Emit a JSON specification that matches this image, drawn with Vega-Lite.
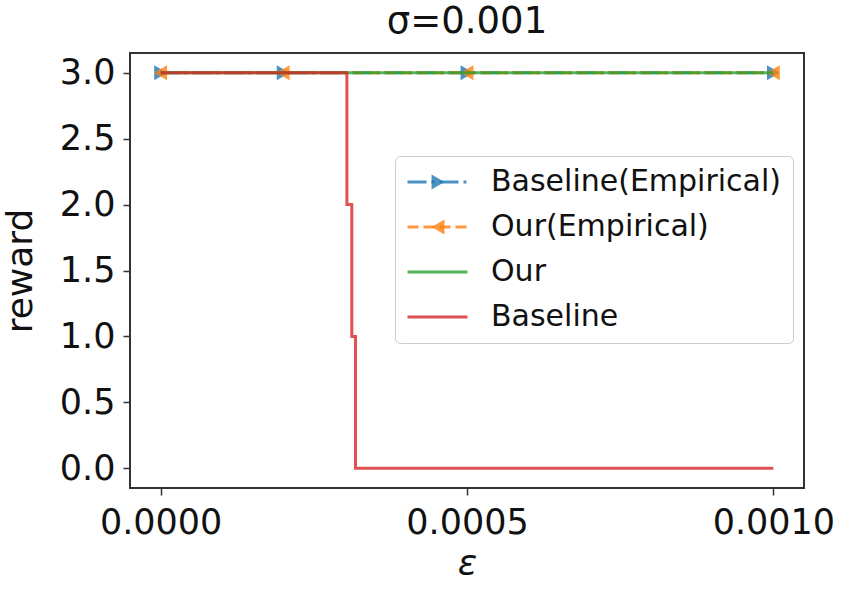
{
  "$schema": "https://vega.github.io/schema/vega-lite/v6.json",
  "width": 674,
  "height": 435,
  "autosize": {"type": "none"},
  "padding": {"left": 130, "top": 53, "right": 46, "bottom": 104},
  "background": "white",
  "config": {
    "font": "DejaVu Sans",
    "view": {"stroke": "#333333", "strokeWidth": 2},
    "axis": {
      "labelFont": "DejaVu Sans",
      "titleFont": "DejaVu Sans",
      "labelFontSize": 35,
      "titleFontSize": 36,
      "titleFontWeight": "normal",
      "labelColor": "#111111",
      "titleColor": "#111111",
      "tickColor": "#333333",
      "tickSize": 7,
      "tickWidth": 1.5,
      "domain": false,
      "grid": false
    }
  },
  "title": {
    "text": "σ=0.001",
    "fontSize": 37,
    "fontWeight": "normal",
    "font": "DejaVu Sans",
    "color": "#111111",
    "offset": 12
  },
  "data": {
    "values": [
      {"series": "Baseline(Empirical)", "eps": 0, "reward": 3},
      {"series": "Baseline(Empirical)", "eps": 0.0002, "reward": 3},
      {"series": "Baseline(Empirical)", "eps": 0.0005, "reward": 3},
      {"series": "Baseline(Empirical)", "eps": 0.001, "reward": 3},
      {"series": "Our(Empirical)", "eps": 0, "reward": 3},
      {"series": "Our(Empirical)", "eps": 0.0002, "reward": 3},
      {"series": "Our(Empirical)", "eps": 0.0005, "reward": 3},
      {"series": "Our(Empirical)", "eps": 0.001, "reward": 3},
      {"series": "Our", "eps": 0, "reward": 3},
      {"series": "Our", "eps": 0.001, "reward": 3},
      {"series": "Baseline", "eps": 0, "reward": 3},
      {"series": "Baseline", "eps": 0.000304, "reward": 2},
      {"series": "Baseline", "eps": 0.000312, "reward": 1},
      {"series": "Baseline", "eps": 0.000318, "reward": 0},
      {"series": "Baseline", "eps": 0.001, "reward": 0}
    ]
  },
  "encoding": {
    "x": {
      "field": "eps", "type": "quantitative",
      "scale": {"domain": [-0.00005, 0.00105], "nice": false, "zero": false},
      "axis": {"values": [0, 0.0005, 0.001], "format": ".4f", "title": "ε", "titleFontStyle": "italic", "labelPadding": 10, "titlePadding": 6}
    },
    "y": {
      "field": "reward", "type": "quantitative",
      "scale": {"domain": [-0.15, 3.15], "nice": false, "zero": false},
      "axis": {"values": [0, 0.5, 1, 1.5, 2, 2.5, 3], "format": ".1f", "title": "reward", "labelPadding": 8, "titlePadding": 20}
    }
  },
  "layer": [
    {
      "transform": [{"filter": "datum.series === 'Baseline(Empirical)'"}],
      "mark": {"type": "line", "strokeWidth": 3, "opacity": 0.8, "interpolate": "step-after"},
      "encoding": {
        "color": {
          "field": "series", "type": "nominal",
          "scale": {"domain": ["Baseline(Empirical)", "Our(Empirical)", "Our", "Baseline"], "range": ["#1f77b4", "#ff7f0e", "#2ca02c", "#d62728"]},
          "legend": {"title": null, "orient": "none", "legendX": 265, "legendY": 103, "symbolType": "stroke", "symbolSize": 3600, "symbolStrokeWidth": 3, "symbolOpacity": 0.8, "labelFontSize": 30, "labelFont": "DejaVu Sans", "labelColor": "#111111", "labelLimit": 500, "labelOffset": 22, "clipHeight": 30, "rowPadding": 15, "padding": 11, "strokeColor": "#cccccc", "fillColor": "white", "cornerRadius": 5}
        },
        "strokeDash": {
          "field": "series", "type": "nominal",
          "scale": {"domain": ["Baseline(Empirical)", "Our(Empirical)", "Our", "Baseline"], "range": [[19, 5, 3, 5], [11, 5], [1, 0], [1, 0]]},
          "legend": {"title": null, "orient": "none", "legendX": 265, "legendY": 103, "symbolType": "stroke", "symbolSize": 3600, "symbolStrokeWidth": 3, "symbolOpacity": 0.8, "labelFontSize": 30, "labelFont": "DejaVu Sans", "labelColor": "#111111", "labelLimit": 500, "labelOffset": 22, "clipHeight": 30, "rowPadding": 15, "padding": 11, "strokeColor": "#cccccc", "fillColor": "white", "cornerRadius": 5}
        }
      }
    },
    {
      "transform": [{"filter": "datum.series === 'Baseline(Empirical)'"}],
      "mark": {"type": "point", "filled": true, "size": 220, "opacity": 0.8, "strokeWidth": 0},
      "encoding": {
        "shape": {
          "field": "series", "type": "nominal",
          "scale": {"domain": ["Baseline(Empirical)", "Our(Empirical)", "Our", "Baseline", " "], "range": ["triangle-right", "triangle-left", "circle", "circle", "circle"]},
          "legend": {"title": null, "orient": "none", "legendX": 282, "legendY": 103, "symbolSize": 220, "symbolStrokeWidth": 0, "symbolOpacity": 0.8, "labelFontSize": 30, "labelFont": "DejaVu Sans", "labelExpr": "''", "labelColor": "transparent", "labelLimit": 500, "clipHeight": 30, "rowPadding": 15, "padding": 11, "strokeColor": "transparent", "fillColor": "transparent"}
        },
        "fill": {
          "field": "series", "type": "nominal",
          "scale": {"domain": ["Baseline(Empirical)", "Our(Empirical)", "Our", "Baseline", " "], "range": ["#1f77b4", "#ff7f0e", "transparent", "transparent", "transparent"]},
          "legend": {"title": null, "orient": "none", "legendX": 282, "legendY": 103, "symbolSize": 220, "symbolStrokeWidth": 0, "symbolOpacity": 0.8, "labelFontSize": 30, "labelFont": "DejaVu Sans", "labelExpr": "''", "labelColor": "transparent", "labelLimit": 500, "clipHeight": 30, "rowPadding": 15, "padding": 11, "strokeColor": "transparent", "fillColor": "transparent"}
        }
      }
    },
    {
      "transform": [{"filter": "datum.series === 'Our(Empirical)'"}],
      "mark": {"type": "line", "strokeWidth": 3, "opacity": 0.8, "interpolate": "step-after"},
      "encoding": {
        "color": {"field": "series", "type": "nominal"},
        "strokeDash": {"field": "series", "type": "nominal"}
      }
    },
    {
      "transform": [{"filter": "datum.series === 'Our(Empirical)'"}],
      "mark": {"type": "point", "filled": true, "size": 220, "opacity": 0.8, "strokeWidth": 0},
      "encoding": {
        "shape": {"field": "series", "type": "nominal"},
        "fill": {"field": "series", "type": "nominal"}
      }
    },
    {
      "transform": [{"filter": "datum.series === 'Our'"}],
      "mark": {"type": "line", "strokeWidth": 3, "opacity": 0.8, "interpolate": "step-after"},
      "encoding": {
        "color": {"field": "series", "type": "nominal"},
        "strokeDash": {"field": "series", "type": "nominal"}
      }
    },
    {
      "transform": [{"filter": "datum.series === 'Baseline'"}],
      "mark": {"type": "line", "strokeWidth": 3, "opacity": 0.8, "interpolate": "step-after"},
      "encoding": {
        "color": {"field": "series", "type": "nominal"},
        "strokeDash": {"field": "series", "type": "nominal"}
      }
    }
  ]
}
